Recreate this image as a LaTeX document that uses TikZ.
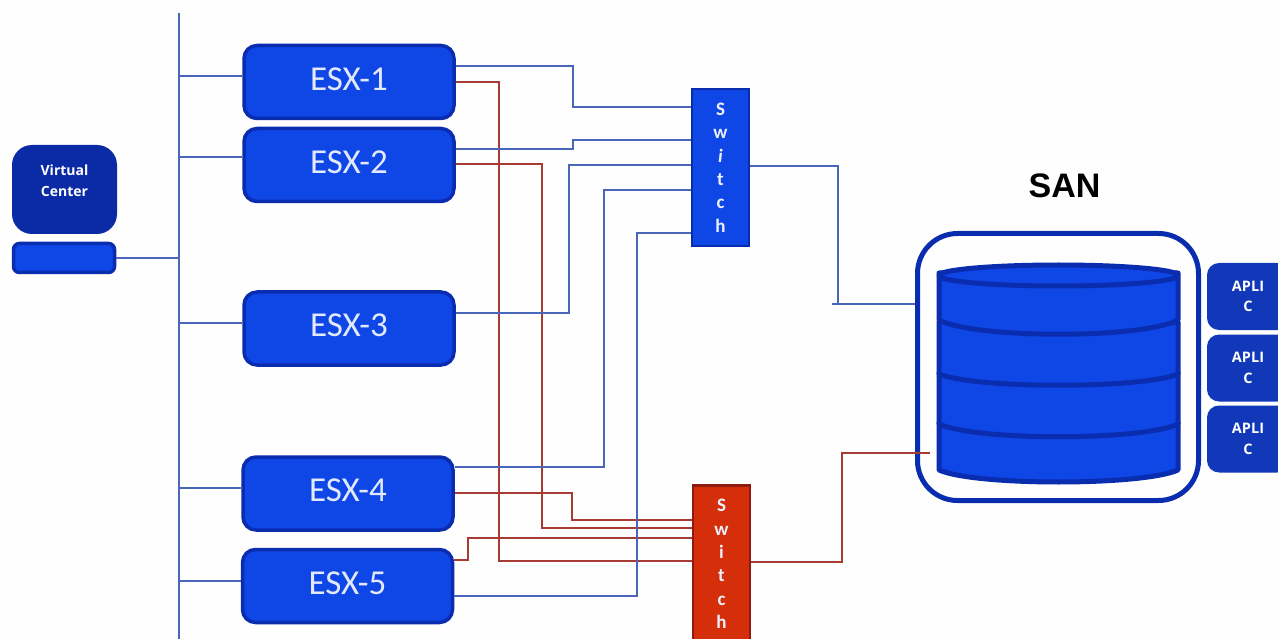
\documentclass[tikz,border=0pt]{standalone}
\usepackage{fontspec}
\setmainfont{Carlito}
\newfontfamily\opensans{Open Sans}
\newfontfamily\sanfont{Liberation Sans}
\definecolor{pagebg}{HTML}{FEFEFE}
\definecolor{nodefill}{HTML}{0F46E6}
\definecolor{nodeedge}{HTML}{0A2DB0}
\definecolor{darkfill}{HTML}{0A2AA6}
\definecolor{aplifill}{HTML}{1038B8}
\definecolor{cableblue}{HTML}{4A66B8}
\definecolor{cablered}{HTML}{A83C34}
\definecolor{switchred}{HTML}{D42F0A}
\definecolor{switchedge}{HTML}{8E1A10}
\tikzset{
  x=1pt,y=-1pt,
  esxbox/.style={draw=nodeedge,line width=3.5pt,fill=nodefill,rounded corners=13pt,minimum width=210pt,minimum height=73pt,inner sep=0pt,text=white!88!nodefill,text depth=6pt,font=\fontsize{35}{38}\selectfont},
  switchbox/.style={line width=2.5pt,minimum width=57pt,minimum height=157pt,inner sep=0pt,align=center,text=white!92!nodefill,font=\bfseries\fontsize{19}{23.4}\selectfont},
  aplibox/.style={fill=aplifill,rounded corners=12pt,minimum width=82pt,minimum height=67pt,inner sep=0pt,align=center,text=white,font=\opensans\bfseries\fontsize{14.5}{20.5}\selectfont},
  blueline/.style={draw=cableblue,line width=2.5pt},
  redline/.style={draw=cablered,line width=2.6pt},
  bandpath/.style={draw=nodeedge,line width=5pt,fill=nodefill,line join=round}
}
\begin{document}
\begin{tikzpicture}
\useasboundingbox (0,0) rectangle (1278,639);
\clip (0,0) rectangle (1278,639);
\fill[pagebg] (0,0) rectangle (1278,639);

% bus
\coordinate (bustop) at (179,13);
\coordinate (busend) at (179,639);
\draw[blueline] (bustop) -- (busend);

% hosts
\node[esxbox] (esx1) at (349,82) {ESX-1};
\node[esxbox] (esx2) at (349,165) {ESX-2};
\node[esxbox] (esx3) at (349,328.5) {ESX-3};
\node[esxbox] (esx4) at (348,493.5) {ESX-4};
\node[esxbox] (esx5) at (347.5,586) {ESX-5};

% virtual center
\node[fill=darkfill,rounded corners=20pt,minimum width=105pt,minimum height=89pt,inner sep=0pt,align=center,text=white,font=\opensans\bfseries\fontsize{14}{21}\selectfont] (vc) at (64.5,189.5) {Virtual\\Center\\[-4pt]\mbox{}};
\node[draw=nodeedge,line width=3.5pt,fill=nodefill,rounded corners=6pt,minimum width=101pt,minimum height=29pt,inner sep=0pt] (vcbar) at (64,258) {};

% switches
\node[switchbox,draw=nodeedge,fill=nodefill] (swb) at (720.5,167.5) {S\\w\\\textit{i}\\t\\c\\h};
\node[switchbox,draw=switchedge,fill=switchred] (swr) at (721.5,564) {S\\w\\i\\t\\c\\h};

% SAN
\node[font=\sanfont\bfseries\fontsize{34}{36}\selectfont,inner sep=0pt] (santitle) at (1064.5,186) {SAN};
\node[draw=nodeedge,line width=5pt,rounded corners=40pt,minimum width=281pt,minimum height=267pt,inner sep=0pt] (sanframe) at (1058,367) {};

% cylinder (bottom to top)
\draw[bandpath] (939,423) -- (939,470) .. controls (975,486) and (1142,486) .. (1178,470) -- (1178,423) -- cycle;
\draw[bandpath] (939,373) -- (939,424) .. controls (975,441) and (1142,441) .. (1178,424) -- (1178,373) -- cycle;
\draw[bandpath] (939,322) -- (939,374) .. controls (975,389) and (1142,389) .. (1178,374) -- (1178,322) -- cycle;
\draw[bandpath] (939,273) -- (939,320) .. controls (975,339) and (1142,339) .. (1178,320) -- (1178,273) -- cycle;
\draw[bandpath] (1058.5,275.5) ellipse [x radius=119.5,y radius=10.5];

% applications
\node[aplibox,anchor=center] (ap1) at (1248,296.5) {APLI\\[0pt]C};
\node[aplibox] (ap2) at (1248,368) {APLI\\[0pt]C};
\node[aplibox] (ap3) at (1248,439) {APLI\\[0pt]C};

% management links
\draw[blueline] (vcbar.east) -- (vcbar.east -| bustop);
\draw[blueline] (esx1.west |- 0,76) -- (bustop |- 0,76);
\draw[blueline] (esx2.west |- 0,157) -- (bustop |- 0,157);
\draw[blueline] (esx3.west |- 0,323) -- (bustop |- 0,323);
\draw[blueline] (esx4.west |- 0,488) -- (bustop |- 0,488);
\draw[blueline] (esx5.west |- 0,581) -- (bustop |- 0,581);

% red cables
\draw[redline] (esx1.east |- 0,82) -- (499,82) -- (499,561) -- (swr.west |- 0,561);
\draw[redline] (esx2.east |- 0,164) -- (542,164) -- (542,528) -- (swr.west |- 0,528);
\draw[redline] (esx4.east |- 0,493) -- (572,493) -- (572,520) -- (swr.west |- 0,520);
\draw[redline] (esx5.east |- 0,560) -- (468,560) -- (468,538) -- (swr.west |- 0,538);

% blue cables
\draw[blueline] (esx1.east |- 0,66) -- (573,66) -- (573,107) -- (swb.west |- 0,107);
\draw[blueline] (esx2.east |- 0,149) -- (573,149) -- (573,140) -- (swb.west |- 0,140);
\draw[blueline] (esx3.east |- 0,313) -- (569,313) -- (569,165) -- (swb.west |- 0,165);
\draw[blueline] (esx4.east |- 0,467) -- (604,467) -- (604,190) -- (swb.west |- 0,190);
\draw[blueline] (esx5.east |- 0,596) -- (637,596) -- (637,233) -- (swb.west |- 0,233);

% uplinks to SAN
\coordinate (bluetick) at (832,304);
\coordinate (redend) at (930,453);
\draw[blueline] (swb.east |- 0,166) -- (838,166) -- (838,304);
\draw[blueline] (bluetick) -- (sanframe.west |- bluetick);
\draw[redline] (swr.east |- 0,562) -- (842,562) -- (842,453) -- (redend);
\end{tikzpicture}
\end{document}
